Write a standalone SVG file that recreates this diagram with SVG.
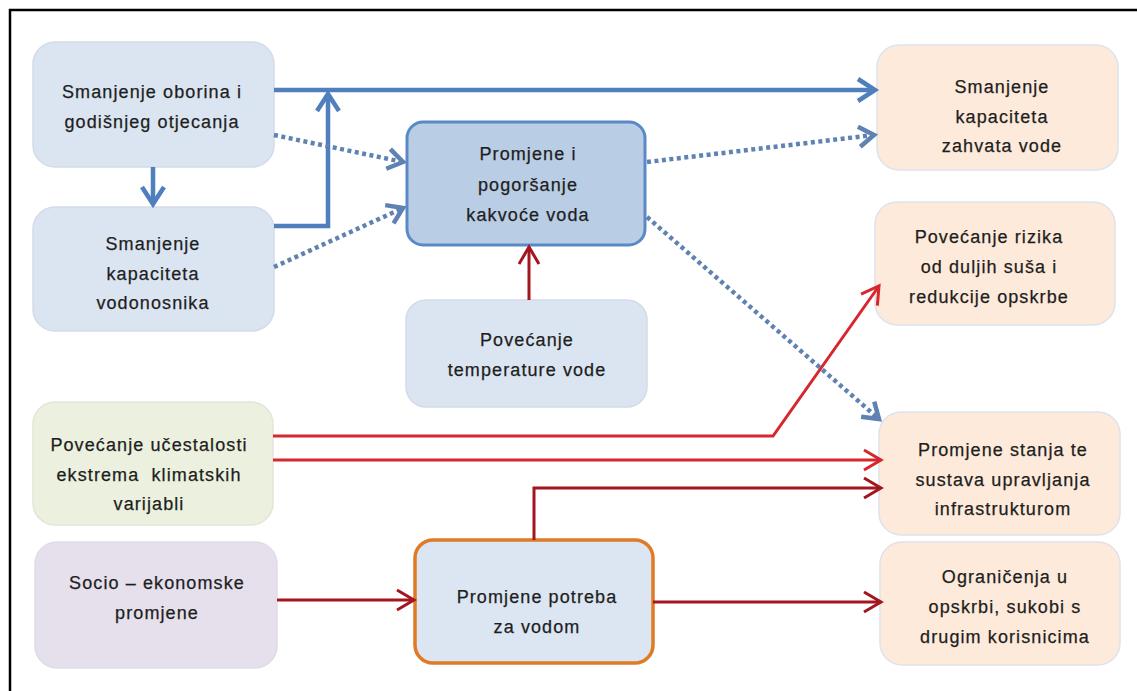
<svg xmlns="http://www.w3.org/2000/svg" width="1137" height="691" viewBox="0 0 1137 691">
<style>
.t{font-family:"Liberation Sans",Arial,sans-serif;font-size:18px;letter-spacing:1.1px;fill:#1e1e1e;text-anchor:middle;stroke:#1e1e1e;stroke-width:0.25}
.bl{fill:#dbe5f1;stroke:#d3dbe7;stroke-width:1.5}
.pe{fill:#fdeada;stroke:#dde3ec;stroke-width:1.5}
.gr{fill:#ebf1de;stroke:#e2e6d8;stroke-width:1.5}
.lv{fill:#e5e0ec;stroke:#e0dce8;stroke-width:1.5}
.bs{fill:none;stroke:#4f7fbd;stroke-width:4.5}
.bd{fill:none;stroke:#5f82b3;stroke-width:4.5;stroke-dasharray:4 3.5}
.rb{fill:none;stroke:#d7262d;stroke-width:3}
.rd{fill:none;stroke:#a3161f;stroke-width:3}
</style>
<defs>
<marker id="ab" markerUnits="userSpaceOnUse" markerWidth="30" markerHeight="30" viewBox="-20 -15 30 30" refX="0" refY="0" orient="auto" overflow="visible">
<path d="M-17,-11 L0,0 L-17,11" fill="none" stroke="#4f7fbd" stroke-width="4.5"/>
</marker>
<marker id="abd" markerUnits="userSpaceOnUse" markerWidth="30" markerHeight="30" viewBox="-20 -15 30 30" refX="0" refY="0" orient="auto" overflow="visible">
<path d="M-15,-10 L0,0 L-15,10" fill="none" stroke="#5f82b3" stroke-width="4.5"/>
</marker>
<marker id="arb" markerUnits="userSpaceOnUse" markerWidth="30" markerHeight="30" viewBox="-20 -15 30 30" refX="0" refY="0" orient="auto" overflow="visible">
<path d="M-17,-10 L0,0 L-17,10" fill="none" stroke="#d7262d" stroke-width="3"/>
</marker>
<marker id="ard" markerUnits="userSpaceOnUse" markerWidth="30" markerHeight="30" viewBox="-20 -15 30 30" refX="0" refY="0" orient="auto" overflow="visible">
<path d="M-17,-10 L0,0 L-17,10" fill="none" stroke="#a3161f" stroke-width="3"/>
</marker>
</defs>
<rect x="0" y="0" width="1137" height="691" fill="#ffffff"/>
<path d="M10,691 V10 H1137" fill="none" stroke="#000" stroke-width="2.5"/>

<g id="n1"><rect class="bl" x="33" y="42" width="241" height="125" rx="22"/>
<text class="t" x="152" y="98">Smanjenje oborina i</text>
<text class="t" x="152" y="128">godišnjeg otjecanja</text></g>

<g id="n2"><rect class="bl" x="33" y="207" width="241" height="124" rx="22"/>
<text class="t" x="153" y="250">Smanjenje</text>
<text class="t" x="153" y="280">kapaciteta</text>
<text class="t" x="153" y="309">vodonosnika</text></g>

<g id="n3"><rect x="407" y="122" width="238" height="123" rx="16" fill="#b9cde5" stroke="#5a8ac6" stroke-width="3"/>
<text class="t" x="528" y="160">Promjene i</text>
<text class="t" x="528" y="191">pogoršanje</text>
<text class="t" x="528" y="221">kakvoće voda</text></g>

<g id="n4"><rect class="bl" x="406" y="300" width="241" height="107" rx="20"/>
<text class="t" x="527" y="346">Povećanje</text>
<text class="t" x="527" y="376">temperature vode</text></g>

<g id="n5"><rect class="gr" x="33" y="402" width="240" height="123" rx="22"/>
<text class="t" x="149" y="451">Povećanje učestalosti</text>
<text class="t" x="149" y="481" xml:space="preserve" style="white-space:pre">ekstrema  klimatskih</text>
<text class="t" x="149" y="510">varijabli</text></g>

<g id="n6"><rect class="lv" x="35" y="542" width="242" height="126" rx="22"/>
<text class="t" x="157" y="589">Socio – ekonomske</text>
<text class="t" x="157" y="619">promjene</text></g>

<g id="n7"><rect x="415" y="540" width="238" height="123" rx="18" fill="#dce6f2" stroke="#e07b25" stroke-width="3.5"/>
<text class="t" x="537" y="603">Promjene potreba</text>
<text class="t" x="537" y="633">za vodom</text></g>

<g id="n8"><rect class="pe" x="877" y="45" width="241" height="125" rx="22"/>
<text class="t" x="1002" y="93">Smanjenje</text>
<text class="t" x="1002" y="123">kapaciteta</text>
<text class="t" x="1002" y="152">zahvata vode</text></g>

<g id="n9"><rect class="pe" x="875" y="202" width="240" height="123" rx="22"/>
<text class="t" x="989" y="243">Povećanje rizika</text>
<text class="t" x="989" y="273">od duljih suša i</text>
<text class="t" x="989" y="303">redukcije opskrbe</text></g>

<g id="n10"><rect class="pe" x="879" y="412" width="241" height="123" rx="22"/>
<text class="t" x="1003" y="456">Promjene stanja te</text>
<text class="t" x="1003" y="486">sustava upravljanja</text>
<text class="t" x="1003" y="515">infrastrukturom</text></g>

<g id="n11"><rect class="pe" x="880" y="542" width="240" height="123" rx="22"/>
<text class="t" x="1005" y="583">Ograničenja u</text>
<text class="t" x="1005" y="613">opskrbi, sukobi s</text>
<text class="t" x="1005" y="643">drugim korisnicima</text></g>

<g id="connectors">
<path class="bs" d="M274,90 H875" marker-end="url(#ab)"/>
<path class="bs" d="M274,226 H328 V94" marker-end="url(#ab)"/>
<path class="bs" d="M153,167 V204" marker-end="url(#ab)"/>
<path class="bd" d="M274,135 L403,162" marker-end="url(#abd)"/>
<path class="bd" d="M274,267 L403,208" marker-end="url(#abd)"/>
<path class="bd" d="M647,162 L874,135" marker-end="url(#abd)"/>
<path class="bd" d="M647,217 L879,419" marker-end="url(#abd)"/>
<path class="rd" d="M529,300 V247" marker-end="url(#ard)"/>
<path class="rb" d="M273,436 H773 L879,286" marker-end="url(#arb)"/>
<path class="rb" d="M273,460 H881" marker-end="url(#arb)"/>
<path class="rd" d="M534,540 V488 H881" marker-end="url(#ard)"/>
<path class="rd" d="M277,600 H414" marker-end="url(#ard)"/>
<path class="rd" d="M653,602 H881" marker-end="url(#ard)"/>
</g>
</svg>
